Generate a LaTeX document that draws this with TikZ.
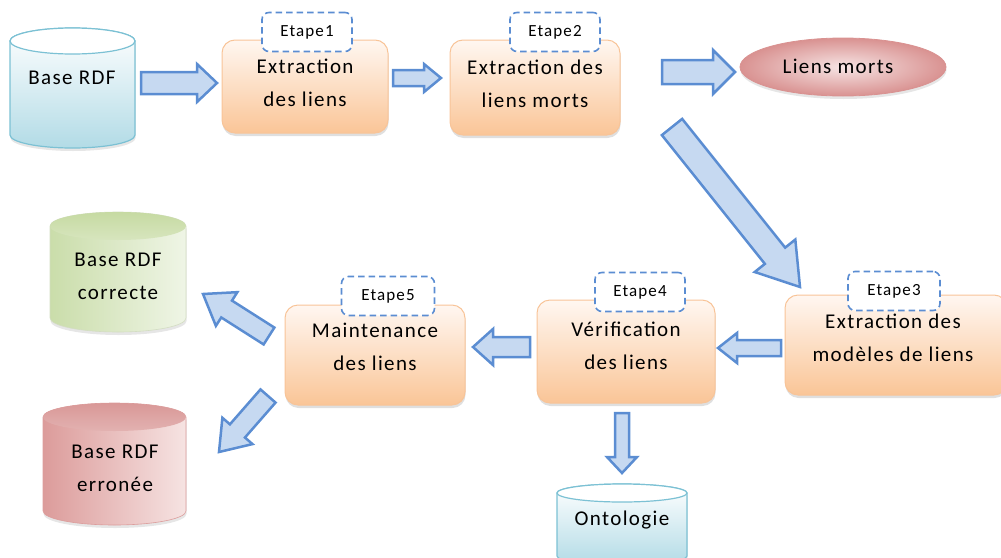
\documentclass[tikz,border=0pt]{standalone}
\usepackage{fontspec}
\setmainfont{Carlito}[LetterSpace=6.5]
\usetikzlibrary{calc,shadows,shapes.geometric}

\definecolor{arrowfill}{HTML}{C6D9F1}
\definecolor{arrowline}{HTML}{5B8DD2}
\definecolor{boxtop}{HTML}{FFF7F1}
\definecolor{boxbot}{HTML}{FAC597}
\definecolor{boxline}{HTML}{F8C498}
\definecolor{dbline}{HTML}{7CC1D4}
\definecolor{dbbot}{HTML}{B2DBE6}
\definecolor{greenA}{HTML}{CADDAA}
\definecolor{greenB}{HTML}{EFF5E6}
\definecolor{greenTop}{HTML}{C6DAA2}
\definecolor{redA}{HTML}{DC9C9B}
\definecolor{redB}{HTML}{F6E3E2}
\definecolor{redTop}{HTML}{D99897}
\definecolor{pinkIn}{HTML}{F6E4E4}
\definecolor{pinkOut}{HTML}{D99291}

% block arrow: start, tip, shaft half-width, head half-width, head length
\newcommand{\blockarrow}[5]{%
  \coordinate (hb) at ($(#2)!#5pt!(#1)$);
  \filldraw[flowarrow]
    ($(#1)!#3pt!90:(#2)$) -- ($(hb)!#3pt!90:(#2)$) -- ($(hb)!#4pt!90:(#2)$)
    -- (#2)
    -- ($(hb)!#4pt!-90:(#2)$) -- ($(hb)!#3pt!-90:(#2)$) -- ($(#1)!#3pt!-90:(#2)$)
    -- cycle;
}

% database cylinder: body style, top style, x1, x2, ytop, ybottom, end radius
\newcommand{\dbcyl}[7]{%
  \pgfmathsetmacro{\cylrx}{(#4-#3)/2}
  \pgfmathsetmacro{\cylcx}{(#4+#3)/2}
  \pgfmathsetmacro{\cylya}{#5+#7}
  \pgfmathsetmacro{\cylyb}{#6-#7}
  \path[#1] (#3,\cylya) -- (#3,\cylyb)
    arc[start angle=180,end angle=360,x radius=\cylrx pt,y radius=#7pt]
    -- (#4,\cylya)
    arc[start angle=0,end angle=180,x radius=\cylrx pt,y radius=#7pt] -- cycle;
  \path[#2] (\cylcx,\cylya) ellipse[x radius=\cylrx pt,y radius=#7pt];
}

\tikzset{
  flowarrow/.style={fill=arrowfill, draw=arrowline, line width=2.5pt, line join=miter},
  stepbox/.style={draw=boxline, line width=1pt, rounded corners=13pt,
    top color=boxtop, bottom color=boxbot,
    drop shadow={shadow xshift=0.5pt, shadow yshift=-3pt, opacity=0.25}},
  boxtext/.style={align=center, font=\fontsize{21}{33}\selectfont, inner sep=0pt},
  etape/.style={draw=arrowline, line width=1.6pt, dash pattern=on 6.5pt off 4pt,
    fill=white, rounded corners=7pt, minimum width=90pt, minimum height=39pt,
    font=\fontsize{17}{20}\selectfont, inner sep=0pt},
  bluebody/.style={top color=white, bottom color=dbbot, draw=dbline, line width=1.2pt,
    drop shadow={shadow xshift=0.5pt, shadow yshift=-3pt, opacity=0.2}},
  bluetop/.style={fill=white, draw=dbline, line width=1.2pt},
  greenbody/.style={left color=greenA, right color=greenB, draw=greenA!90!black!60, line width=0.6pt,
    drop shadow={shadow xshift=0.5pt, shadow yshift=-3pt, opacity=0.2}},
  greentop/.style={top color=greenTop, bottom color=greenTop!70!white},
  redbody/.style={left color=redA, right color=redB, draw=redA, line width=0.6pt,
    drop shadow={shadow xshift=0.5pt, shadow yshift=-3pt, opacity=0.2}},
  redtop/.style={top color=redTop, bottom color=redTop!75!white},
  dbtext/.style={align=center, font=\fontsize{21}{33}\selectfont, inner sep=0pt},
}

\begin{document}
\begin{tikzpicture}[x=1pt,y=-1pt]
\useasboundingbox (0,0) rectangle (1001,557);

% ---- databases ----
\dbcyl{bluebody}{bluetop}{10}{135}{28}{148}{13}
\node[dbtext] (dbin) at (72,78) {Base RDF};

\dbcyl{greenbody}{greentop}{50}{186}{212}{332}{14}
\node[dbtext] (dbok) at (118,276) {Base RDF\\correcte};

\dbcyl{redbody}{redtop}{43}{186}{403}{525}{14}
\node[dbtext] (dbbad) at (115,468) {Base RDF\\erronée};

\dbcyl{bluebody}{bluetop}{557}{687}{484}{565}{9}
\node[dbtext] (onto) at (622,520) {Ontologie};

% ---- dead links ----
\node[ellipse, minimum width=206pt, minimum height=58pt, inner sep=0pt,
  draw=pinkOut, line width=0.8pt, inner color=pinkIn, outer color=pinkOut,
  drop shadow={shadow xshift=0.5pt, shadow yshift=-3pt, opacity=0.2}] (dead) at (843,67) {};
\node[boxtext] (deadtxt) at (838,66) {Liens morts};

% ---- processing steps ----
\node[stepbox, minimum width=166pt, minimum height=93pt] (b1) at (305,86.5) {};
\node[boxtext] (t1) at (305,83) {Extraction\\des liens};
\node[etape] (e1) at (307,32) {Etape1};

\node[stepbox, minimum width=170pt, minimum height=95pt] (b2) at (535,87.5) {};
\node[boxtext] (t2) at (535,84) {Extraction des\\liens morts};
\node[etape] (e2) at (555,32) {Etape2};

\node[stepbox, minimum width=222pt, minimum height=100pt] (b3) at (896,345) {};
\node[boxtext] (t3) at (893,338) {Extraction des\\modèles de liens};
\node[etape, minimum width=92pt] (e3) at (894,291) {Etape3};

\node[stepbox, minimum width=178pt, minimum height=103pt] (b4) at (626,351.5) {};
\node[boxtext] (t4) at (626,346) {Vérification\\des liens};
\node[etape] (e4) at (640,292) {Etape4};

\node[stepbox, minimum width=180pt, minimum height=100pt] (b5) at (375,355) {};
\node[boxtext] (t5) at (375,347) {Maintenance\\des liens};
\node[etape, minimum width=93pt] (e5) at (388,296) {Etape5};

% ---- flow arrows ----
\coordinate (a1s) at (141,83);  \coordinate (a1e) at (217,83);
\coordinate (a2s) at (393,78);  \coordinate (a2e) at (441,78);
\coordinate (a3s) at (662,72);  \coordinate (a3e) at (735,72);
\coordinate (a4s) at (672,127); \coordinate (a4e) at (800,287);
\coordinate (a5s) at (781,348); \coordinate (a5e) at (718,348);
\coordinate (a6s) at (530,347); \coordinate (a6e) at (473,347);
\coordinate (a7s) at (622,413); \coordinate (a7e) at (622,473);
\coordinate (a8s) at (269,336); \coordinate (a8e) at (203,294);
\coordinate (a9s) at (268,396); \coordinate (a9e) at (219,452);

\blockarrow{a1s}{a1e}{11}{19}{20}
\blockarrow{a2s}{a2e}{8}{14}{17}
\blockarrow{a3s}{a3e}{12}{22}{22}
\blockarrow{a4s}{a4e}{13}{26}{40}
\blockarrow{a5s}{a5e}{8}{15}{19}
\blockarrow{a6s}{a6e}{10}{18}{20}
\blockarrow{a7s}{a7e}{7}{15}{16}
\blockarrow{a8s}{a8e}{10}{20}{28}
\blockarrow{a9s}{a9e}{10}{20}{28}
\end{tikzpicture}
\end{document}
